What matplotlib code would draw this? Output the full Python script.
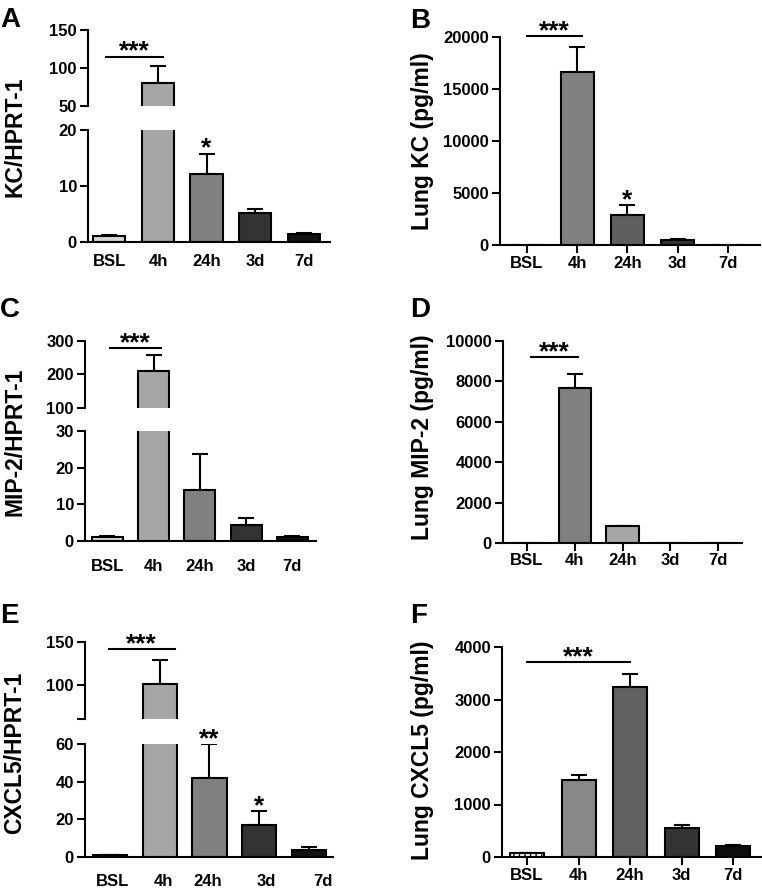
import numpy as np
import matplotlib.pyplot as plt

plt.rcParams["font.family"] = ["Liberation Sans", "DejaVu Sans"]
plt.rcParams["font.weight"] = "bold"

# ---- data ----
groups = ["BSL", "4h", "24h", "3d", "7d"]

kc_mrna = [1.0, 80, 12.2, 5.1, 1.4]
kc_mrna_err = [0.2, 23, 3.6, 0.8, 0.15]

kc_lung = [0, 16600, 2900, 450, 0]
kc_lung_err = [0, 2400, 950, 100, 0]

mip2_mrna = [1.0, 210, 13.8, 4.3, 1.1]
mip2_mrna_err = [0.3, 47, 9.9, 1.9, 0.25]

mip2_lung = [0, 7650, 830, 0, 0]
mip2_lung_err = [0, 730, 30, 0, 0]

cxcl5_mrna = [1.0, 101, 42, 17, 3.8]
cxcl5_mrna_err = [0.3, 28, 18, 7.5, 1.7]

cxcl5_lung = [70, 1460, 3230, 550, 210]
cxcl5_lung_err = [10, 100, 260, 60, 20]

grey5 = ["#d6d6d6", "#a6a6a6", "#808080", "#333333", "#111111"]
colors_b = ["#ffffff", "#808080", "#5f5f5f", "#333333", "#111111"]
colors_d = ["#ffffff", "#808080", "#a6a6a6", "#333333", "#111111"]
colors_f = ["#ffffff", "#888888", "#606060", "#333333", "#0d0d0d"]

W, H = 762, 890
fig = plt.figure(figsize=(W / 100, H / 100), dpi=100, facecolor="white")


def box(x0, y0, x1, y1):
    return [x0 / W, 1 - y1 / H, (x1 - x0) / W, (y1 - y0) / H]


LW = 1.5


def draw_bars(ax, vals, errs, colors, width, xl, keep=None,
              hatch_first=False):
    x = np.arange(len(vals))
    bars = ax.bar(x, vals, width=width, color=colors, edgecolor="black",
                  linewidth=LW, zorder=2)
    if hatch_first:
        bars[0].set_hatch("|||")
    idx = [i for i, e in enumerate(errs)
           if e > 0 and (keep is None or keep(vals[i], e))]
    if idx:
        ax.errorbar(x[idx], np.array(vals)[idx],
                    yerr=[np.zeros(len(idx)), np.array(errs)[idx]],
                    fmt="none", ecolor="black", elinewidth=LW, capsize=6,
                    capthick=LW, zorder=1)
    ax.set_xlim(*xl)


def style(ax, bottom=True):
    for s in ["top", "right"]:
        ax.spines[s].set_visible(False)
    ax.spines["left"].set_linewidth(LW)
    ax.spines["bottom"].set_linewidth(LW)
    if not bottom:
        ax.spines["bottom"].set_visible(False)
        ax.set_xticks([])
    ax.tick_params(axis="y", length=6, width=LW, labelsize=12, pad=2)


def broken(lower, upper, vals, errs, colors, xl, width, llim, lticks,
           ulim, uticks, ulabels, xpad, label_shift=None):
    axl = fig.add_axes(box(*lower))
    axu = fig.add_axes(box(*upper))
    draw_bars(axl, vals, errs, colors, width, xl,
              keep=lambda v, e: v + e <= llim[1])
    draw_bars(axu, vals, errs, colors, width, xl,
              keep=lambda v, e: v > ulim[0])
    axl.set_ylim(*llim)
    axl.set_yticks(lticks)
    axu.set_ylim(*ulim)
    axu.set_yticks(uticks)
    axu.set_yticklabels(ulabels)
    style(axl)
    style(axu, bottom=False)
    shift = label_shift if label_shift else [0] * len(groups)
    axl.set_xticks(np.arange(len(groups)) + np.array(shift))
    axl.set_xticklabels(groups)
    axl.tick_params(axis="x", length=0, labelsize=12, pad=xpad)
    return axl, axu


def single(rect, vals, errs, colors, xl, width, ylim, yticks, xpad,
           hatch_first=False):
    ax = fig.add_axes(box(*rect))
    draw_bars(ax, vals, errs, colors, width, xl, hatch_first=hatch_first)
    ax.set_ylim(*ylim)
    ax.set_yticks(yticks)
    style(ax)
    ax.set_xticks(np.arange(len(groups)))
    ax.set_xticklabels(groups)
    ax.tick_params(axis="x", length=6, width=LW, labelsize=12, pad=xpad)
    return ax


def sig_line(ax, x0, x1, y, text):
    ax.plot([x0, x1], [y, y], color="black", lw=LW, clip_on=False)
    ax.annotate(text, ((x0 + x1) / 2, y), xytext=(0, -1.5),
                textcoords="offset points", ha="center", va="baseline",
                fontsize=19, fontweight="bold", annotation_clip=False)


def star(ax, i, y, text):
    ax.annotate(text, (i, y), xytext=(0, -1.5), textcoords="offset points",
                ha="center", va="baseline", fontsize=19, fontweight="bold",
                annotation_clip=False)


# A
aL, aU = broken((88, 130, 330, 242), (88, 30, 330, 106), kc_mrna,
                kc_mrna_err, grey5, (-0.443, 4.546), 0.66,
                (0, 20), [0, 10, 20], (50, 150), [50, 100, 150],
                ["50", "100", "150"], 9)
sig_line(aU, -0.07, 1.1, 115, "***")
star(aL, 2, kc_mrna[2] + kc_mrna_err[2], "*")

# B
b = single((500, 37, 760, 245), kc_lung, kc_lung_err, colors_b,
           (-0.537, 4.64), 0.66, (0, 20000),
           [0, 5000, 10000, 15000, 20000], 2)
sig_line(b, 0, 1.1, 20100, "***")
star(b, 2, kc_lung[2] + kc_lung_err[2], "*")

# C
cL, cU = broken((85, 431, 316, 541), (85, 341, 316, 408), mip2_mrna,
                mip2_mrna_err, grey5, (-0.486, 4.51), 0.67,
                (0, 30), [0, 10, 20, 30], (100, 300), [100, 200, 300],
                ["100", "200", "300"], 13)
sig_line(cU, 0.05, 1.16, 279, "***")

# D
d = single((503, 341, 742, 543), mip2_lung, mip2_lung_err, colors_d,
           (-0.5, 4.5), 0.67, (0, 10000),
           [0, 2000, 4000, 6000, 8000, 10000], 1)
sig_line(d, 0.08, 1.07, 9200, "***")

# E
eL, eU = broken((85, 744, 333, 857), (85, 642, 333, 719), cxcl5_mrna,
                cxcl5_mrna_err, grey5, (-0.51, 4.49), 0.69,
                (0, 60), [0, 20, 40, 60], (60, 150), [60, 100, 150],
                ["", "100", "150"], 12,
                label_shift=[0.05, 0.08, -0.04, 0.15, 0.28])
sig_line(eU, -0.03, 1.3, 142, "***")
star(eL, 2, cxcl5_mrna[2] + cxcl5_mrna_err[2], "**")
star(eL, 3, cxcl5_mrna[3] + cxcl5_mrna_err[3], "*")

# F
f = single((502, 647, 762, 857), cxcl5_lung, cxcl5_lung_err, colors_f,
           (-0.485, 4.56), 0.66, (0, 4000),
           [0, 1000, 2000, 3000, 4000], 2, hatch_first=True)
sig_line(f, 0, 2.0, 3714, "***")

# y labels and panel letters
ylabels = [("KC/HPRT-1", 15, 137), ("Lung KC (pg/ml)", 422, 141),
           ("MIP-2/HPRT-1", 15, 442), ("Lung MIP-2 (pg/ml)", 422, 437),
           ("CXCL5/HPRT-1", 15, 753), ("Lung CXCL5 (pg/ml)", 422, 750)]
for txt, x, y in ylabels:
    fig.text(x / W, 1 - y / H, txt, rotation=90, ha="center", va="center",
             fontsize=16.5, fontweight="bold")

letters = [("A", 0, 27), ("B", 410, 28), ("C", 0, 317), ("D", 410, 317),
           ("E", 0, 623), ("F", 410, 623)]
for txt, x, y in letters:
    fig.text(x / W, 1 - y / H, txt, ha="left", va="baseline",
             fontsize=20, fontweight="bold")

plt.savefig("out.png", dpi=100, facecolor="white")
